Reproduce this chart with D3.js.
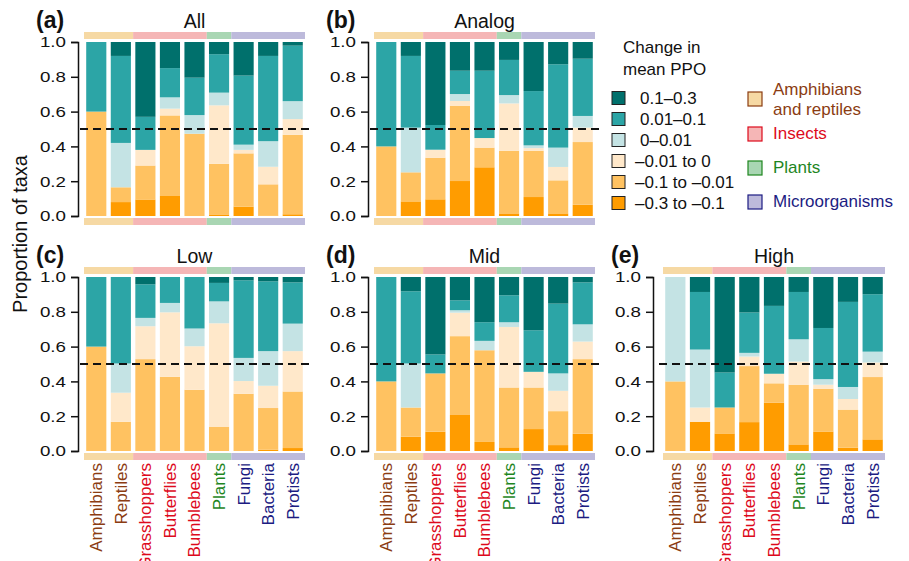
<!DOCTYPE html>
<html>
<head>
<meta charset="utf-8">
<script src="https://cdn.jsdelivr.net/npm/d3@7"></script>
<style>
  body { margin: 0; background: #fff; }
  svg { display: block; font-family: "Liberation Sans", Arial, Helvetica, sans-serif; }
</style>
</head>
<body>
<div id="chart"></div>
<script>
// taxa along x, with their group index
const taxa = ["Amphibians", "Reptiles", "Grasshoppers", "Butterflies", "Bumblebees", "Plants", "Fungi", "Bacteria", "Protists"];
const taxonGroup = [0, 0, 1, 1, 1, 2, 3, 3, 3];
const groupNames = [["Amphibians", "and reptiles"], ["Insects"], ["Plants"], ["Microorganisms"]];

// change-in-PPO classes, bottom of the stack first
const changeClasses = ["\u20130.3 to \u20130.1", "\u20130.1 to \u20130.01", "\u20130.01 to 0", "0\u20130.01", "0.01\u20130.1", "0.1\u20130.3"];

const panelTags = ["(a)", "(b)", "(c)", "(d)", "(e)"];
const panelTitles = ["All", "Analog", "Low", "Mid", "High"];
const yTicks = [0, 0.2, 0.4, 0.6, 0.8, 1.0];

// proportion of taxa per class (one row per class, one value per taxon)
const valsAll = [
    [0, .08, .095, .115, 0, .006, .054, .003, .01],
    [.60, .085, .195, .463, .473, .294, .306, .179, .457],
    [0, 0, .09, .039, 0, .336, .02, .101, .09],
    [0, .255, 0, .065, .107, .073, .03, .147, .103],
    [.40, .50, .19, .168, .215, .221, .397, .49, .319],
    [0, .08, .43, .15, .205, .07, .193, .08, .021]
];
const valsAnalog = [
    [0, .084, .096, .201, .28, .015, .109, .015, .065],
    [.40, .167, .239, .433, .113, .36, .266, .19, .36],
    [0, 0, .046, .027, .055, .272, .015, .077, .083],
    [0, .257, 0, .04, 0, .048, .016, .111, .067],
    [.60, .412, .142, .134, .387, .202, .312, .479, .329],
    [0, .08, .477, .165, .165, .103, .282, .128, .096]
];
const valsLow = [
    [0, 0, 0, 0, 0, 0, 0, .008, .017],
    [.60, .168, .528, .426, .352, .14, .329, .239, .325],
    [0, .167, .189, .371, .25, .594, .073, .128, .232],
    [0, .168, .048, .054, .102, .126, .133, .199, .158],
    [.40, .497, .193, .149, .296, .106, .446, .401, .237],
    [0, 0, .042, 0, 0, .034, .019, .025, .031]
];
const valsMid = [
    [0, .082, .111, .207, .052, .021, .126, .034, .099],
    [.40, .168, .335, .453, .527, .344, .239, .195, .429],
    [0, 0, 0, .135, 0, .348, .09, .117, .101],
    [0, .253, 0, .014, .054, .027, 0, .10, .099],
    [.60, .415, .109, .057, .107, .155, .239, .401, .241],
    [0, .082, .445, .134, .26, .105, .306, .153, .031]
];
const valsHigh = [
    [0, .168, .101, .166, .278, .038, .112, .019, .067],
    [.40, 0, .149, .322, .111, .343, .246, .219, .358],
    [0, .082, 0, .055, .055, .133, .023, .061, .084],
    [.60, .333, 0, .021, 0, .128, .032, .069, .062],
    [0, .331, .201, .232, .39, .272, .294, .489, .33],
    [0, .086, .549, .204, .166, .086, .293, .143, .099]
];
const panelValues = [valsAll, valsAnalog, valsLow, valsMid, valsHigh];

const classColors = ["#FF9C00", "#FFC261", "#FFE8CA", "#C4E3E4", "#2CA5A6", "#00706C"];
const stripColors = ["#F6D9A4", "#F5B6B6", "#A9D6B3", "#BDBADB"];
const groupTextColors = ["#8B3C12", "#DD0A1C", "#1E861E", "#1C1C82"];

const W = 909, H = 561;

const svg = d3.select("#chart").append("svg")
    .attr("width", W)
    .attr("height", H)
    .attr("viewBox", [0, 0, W, H]);

// panel placement: [left, right, axis x] per column, [top, bottom] per row
const cols = [[84, 305, 78], [374, 595, 368], [663, 885, 653]];
const rows = [[42, 216], [277, 451]];
const panelPos = [[0, 0], [1, 0], [0, 1], [1, 1], [2, 1]];

const stack = d3.stack().keys(d3.range(changeClasses.length));

panelValues.forEach((vals, p) => {
    const [ci, ri] = panelPos[p];
    const [left, right, axisX] = cols[ci];
    const [top, bottom] = rows[ri];

    const x = d3.scaleBand()
        .domain(taxa)
        .range([left, right])
        .paddingInner(0.18)
        .paddingOuter(0.09);

    const y = d3.scaleLinear()
        .domain([0, 1])
        .range([bottom, top]);

    const g = svg.append("g");

    const rowsData = taxa.map((t, i) => {
        const r = { taxon: t };
        vals.forEach((s, k) => r[k] = s[i]);
        return r;
    });
    const series = stack(rowsData);

    g.selectAll(".layer")
        .data(series)
        .join("g")
        .attr("fill", d => classColors[d.key])
        .selectAll("rect")
        .data(d => d)
        .join("rect")
        .attr("x", d => x(d.data.taxon))
        .attr("width", x.bandwidth())
        .attr("y", d => y(d[1]))
        .attr("height", d => Math.max(0, y(d[0]) - y(d[1])));

    // group strips above and below the bars
    const half = (x.step() - x.bandwidth()) / 2;
    groupNames.forEach((gn, gi) => {
        const members = taxa.filter((t, i) => taxonGroup[i] === gi);
        const x0 = x(members[0]) - half;
        const x1 = x(members[members.length - 1]) + x.bandwidth() + half;
        [top - 10, bottom + 2].forEach(sy => {
            g.append("rect")
                .attr("x", x0)
                .attr("y", sy)
                .attr("width", x1 - x0)
                .attr("height", 7)
                .attr("fill", stripColors[gi]);
        });
    });

    // y axis
    const axis = g.append("g")
        .attr("transform", `translate(${axisX},0)`)
        .call(d3.axisLeft(y)
            .tickValues(yTicks)
            .tickFormat(d3.format(".1f"))
            .tickSizeOuter(0)
            .tickSize(7)
            .tickPadding(5));
    axis.select(".domain").attr("stroke", "#111").attr("stroke-width", 1.5);
    axis.selectAll(".tick line").attr("stroke", "#111").attr("stroke-width", 1.5);
    // tick labels in the reference are set wide, so stretch them a little
    axis.selectAll(".tick text")
        .attr("fill", "#111")
        .attr("x", -12 / 1.25)
        .attr("transform", "scale(1.25,1)")
        .style("font-size", "15px")
        .style("font-family", "'Liberation Sans', Arial, sans-serif");

    // 50% reference line
    g.append("line")
        .attr("x1", left - 4)
        .attr("x2", right + 5)
        .attr("y1", y(0.5))
        .attr("y2", y(0.5))
        .attr("stroke", "#111")
        .attr("stroke-width", 2)
        .attr("stroke-dasharray", "8,5");

    // titles
    g.append("text")
        .attr("x", (left + right) / 2)
        .attr("y", top - 14)
        .attr("text-anchor", "middle")
        .style("font-size", "19.5px")
        .attr("fill", "#111")
        .text(panelTitles[p]);

    g.append("text")
        .attr("x", axisX - 42)
        .attr("y", top - 14)
        .style("font-size", "23px")
        .style("font-weight", "bold")
        .attr("fill", "#111")
        .text(panelTags[p]);

    // taxon labels under the bottom row
    if (ri === 1) {
        g.selectAll(".xlab")
            .data(taxa)
            .join("text")
            .attr("class", "xlab")
            .attr("transform", d => `translate(${x(d) + x.bandwidth() / 2},${bottom + 12}) rotate(-90)`)
            .attr("dy", "0.35em")
            .attr("text-anchor", "end")
            .style("font-size", "17px")
            .attr("fill", (d, i) => groupTextColors[taxonGroup[i]])
            .text(d => d);
    }
});

// y axis title
svg.append("text")
    .attr("transform", "translate(27,234) rotate(-90)")
    .attr("text-anchor", "middle")
    .style("font-size", "20px")
    .attr("fill", "#111")
    .text("Proportion of taxa");

// legend: change classes
const leg = svg.append("g");
leg.append("text")
    .attr("x", 623).attr("y", 53)
    .style("font-size", "17px").attr("fill", "#111")
    .text("Change in");
leg.append("text")
    .attr("x", 623).attr("y", 75)
    .style("font-size", "17px").attr("fill", "#111")
    .text("mean PPO");

const legendOrder = d3.range(changeClasses.length).reverse();
legendOrder.forEach((k, j) => {
    const cy = 98 + j * 21;
    leg.append("rect")
        .attr("x", 612).attr("y", cy - 6.5)
        .attr("width", 13).attr("height", 13)
        .attr("fill", classColors[k])
        .attr("stroke", "#222").attr("stroke-width", 1);
    leg.append("text")
        .attr("x", changeClasses[k].startsWith("\u2013") ? 635 : 640)
        .attr("y", cy)
        .attr("dy", "0.36em")
        .style("font-size", "17px").attr("fill", "#111")
        .text(changeClasses[k]);
});

// legend: taxon groups
const groupY = [99, 134, 168, 202];
groupNames.forEach((lines, gi) => {
    leg.append("rect")
        .attr("x", 748).attr("y", groupY[gi] - 7)
        .attr("width", 14).attr("height", 14)
        .attr("fill", stripColors[gi])
        .attr("stroke", groupTextColors[gi]).attr("stroke-width", 1.2);
    const t = leg.append("text")
        .attr("x", 773)
        .attr("y", lines.length > 1 ? groupY[gi] - 4 : groupY[gi] + 5)
        .style("font-size", "17px")
        .attr("fill", groupTextColors[gi]);
    lines.forEach((ln, li) => {
        t.append("tspan").attr("x", 773).attr("dy", li === 0 ? 0 : 20).text(ln);
    });
});
</script>
</body>
</html>
